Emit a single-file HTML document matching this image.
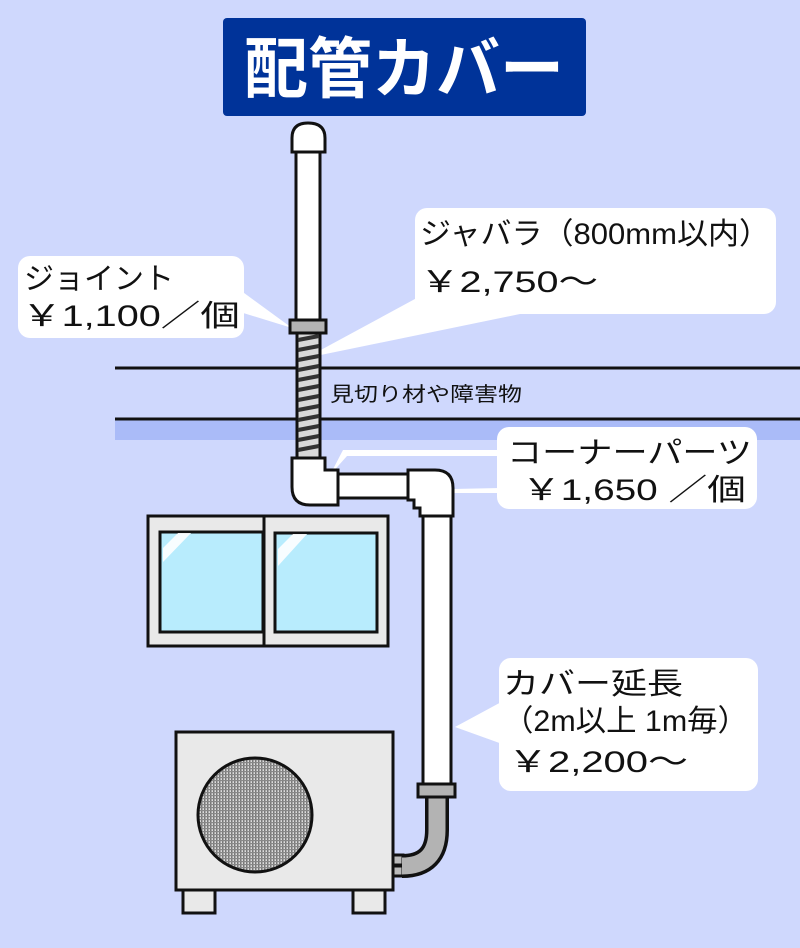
<!DOCTYPE html>
<html><head><meta charset="utf-8"><style>
html,body{margin:0;padding:0;background:#cfd8fd}
svg{display:block}
text{font-family:"Liberation Sans","Noto Sans CJK JP",sans-serif;fill:#111}
</style></head><body>
<svg width="800" height="948" viewBox="0 0 800 948" xmlns="http://www.w3.org/2000/svg">
<defs>
<pattern id="mesh" width="3" height="3" patternUnits="userSpaceOnUse"><rect width="3" height="3" fill="#ddd"/><rect width="1.5" height="3" fill="#777"/><rect width="3" height="1.2" fill="#888"/></pattern>
</defs>
<rect width="800" height="948" fill="#cfd8fd"/>
<!-- title -->
<rect x="223" y="18" width="363" height="98" rx="4" fill="#003399"/>
<text x="404" y="92" text-anchor="middle" font-size="66" font-weight="bold" style="fill:#fff" textLength="320" lengthAdjust="spacingAndGlyphs">配管カバー</text>
<!-- wall lines -->
<rect x="115" y="420" width="685" height="20" fill="#aabbf8"/>
<line x1="115" y1="368" x2="800" y2="368" stroke="#111" stroke-width="3"/>
<line x1="115" y1="419" x2="800" y2="419" stroke="#111" stroke-width="3"/>
<text x="330" y="401" font-size="20" textLength="192" lengthAdjust="spacingAndGlyphs">見切り材や障害物</text>
<!-- callouts -->
<g fill="#fff">
<rect x="18" y="256" width="226" height="82" rx="12"/>
<polygon points="240,290 240,312 292,328"/>
<rect x="415" y="208" width="361" height="106" rx="12"/>
<polygon points="450,280 520,314 306,358"/>
<rect x="497" y="427" width="260" height="82" rx="12"/>
<polygon points="500,450 500,456 347,456 330,475 343,450"/>
<polygon points="500,488 500,493 453,493 453,489"/>
<rect x="499" y="658" width="259" height="133" rx="12"/>
<polygon points="505,700 505,745 455,727"/>
</g>
<g font-size="30">
<text x="24" y="289" textLength="150" lengthAdjust="spacingAndGlyphs">ジョイント</text>
<text x="22" y="326" textLength="218" lengthAdjust="spacingAndGlyphs">￥1,100／個</text>
<text x="420" y="244" textLength="350" lengthAdjust="spacingAndGlyphs">ジャバラ（800mm以内）</text>
<text x="420" y="292" textLength="178" lengthAdjust="spacingAndGlyphs">￥2,750～</text>
<text x="507" y="463" textLength="245" lengthAdjust="spacingAndGlyphs">コーナーパーツ</text>
<text x="522" y="500" textLength="224" lengthAdjust="spacingAndGlyphs">￥1,650 ／個</text>
<text x="503" y="694" textLength="180" lengthAdjust="spacingAndGlyphs">カバー延長</text>
<text x="503" y="731" textLength="245" lengthAdjust="spacingAndGlyphs">（2m以上 1m毎）</text>
<text x="508" y="772" textLength="180" lengthAdjust="spacingAndGlyphs">￥2,200～</text>
</g>
<!-- window -->
<g stroke="#111" stroke-width="3">
<rect x="148" y="516" width="240" height="130" fill="#e9e9e9"/>
<line x1="264" y1="516" x2="264" y2="646"/>
<rect x="160" y="532" width="103" height="100" fill="#b8ecfd"/>
<rect x="275" y="533" width="102" height="99" fill="#b8ecfd"/>
</g>
<polygon points="163,548 178,533 191,533 163,562" fill="#fff" opacity=".9"/>
<polygon points="278,549 293,534 307,534 278,566" fill="#fff" opacity=".9"/>
<!-- outdoor unit -->
<g stroke="#111" stroke-width="3">
<rect x="183" y="890" width="32" height="23" fill="#e9e9e9"/>
<rect x="353" y="890" width="32" height="23" fill="#e9e9e9"/>
<rect x="176" y="732" width="217" height="158" fill="#e9e9e9"/>
<circle cx="255" cy="815" r="57" fill="url(#mesh)"/>
<rect x="393" y="855" width="10" height="10" fill="#bbb"/>
<rect x="393" y="866" width="10" height="10" fill="#bbb"/>
</g>
<path d="M437,796 L437,830 Q437,866 402,866" fill="none" stroke="#111" stroke-width="24"/>
<path d="M437,796 L437,830 Q437,866 402,866" fill="none" stroke="#b3b3b3" stroke-width="17"/>
<g stroke="#111" stroke-width="3">
<!-- right vertical pipe -->
<rect x="423" y="508" width="28" height="278" fill="#fff"/>
<rect x="418" y="784" width="37" height="13" fill="#b3b3b3"/>
<!-- horizontal pipe -->
<rect x="330" y="474" width="82" height="24" fill="#fff"/>
<!-- right elbow -->
<path d="M408,470 L435,470 Q453,470 453,488 L453,516 L420,516 L420,508 L414,508 L414,500 L408,500 Z" fill="#fff"/>
<!-- bellows -->
<rect x="297" y="333" width="23" height="127" fill="#d9d9d9"/>
<!-- left elbow -->
<path d="M292,458 L325,458 L325,470 L338,470 L338,505 L310,505 Q292,505 292,487 Z" fill="#fff"/>
<!-- top pipe -->
<rect x="296" y="150" width="24" height="172" fill="#fff"/>
<path d="M292,152 L292,138 Q292,123 308,123 Q325,123 325,138 L325,152 Z" fill="#fff"/>
<rect x="290" y="320" width="36" height="13" fill="#b3b3b3"/>
</g>
<g stroke="#333" stroke-width="4">
<line x1="298" y1="340" x2="319" y2="336"/><line x1="298" y1="350" x2="319" y2="346"/>
<line x1="298" y1="360" x2="319" y2="356"/><line x1="298" y1="370" x2="319" y2="366"/>
<line x1="298" y1="380" x2="319" y2="376"/><line x1="298" y1="390" x2="319" y2="386"/>
<line x1="298" y1="400" x2="319" y2="396"/><line x1="298" y1="410" x2="319" y2="406"/>
<line x1="298" y1="420" x2="319" y2="416"/><line x1="298" y1="430" x2="319" y2="426"/>
<line x1="298" y1="440" x2="319" y2="436"/><line x1="298" y1="450" x2="319" y2="446"/>
</g>
</svg>
</body></html>
